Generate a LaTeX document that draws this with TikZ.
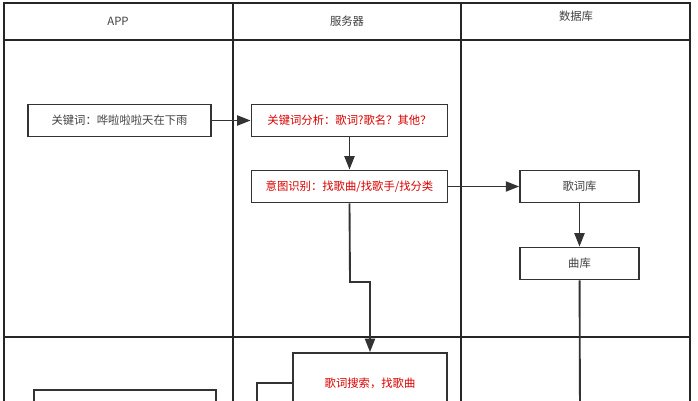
\documentclass[tikz,border=0pt]{standalone}
\usepackage{fontspec}
\setmainfont{Noto Sans CJK SC}
\usetikzlibrary{arrows.meta}
\tikzset{every picture/.style={line width=0.75pt}}
\tikzset{
  stepbox/.style={draw=black!80, line width=1.4pt, minimum height=24pt, inner sep=0pt, font=\fontsize{8.5}{10}\selectfont},
  redtext/.style={text=red!85!black},
  link/.style={draw=black!80, line width=1.4pt, -{Triangle[length=10pt,width=7.5pt]}}
}
\begin{document}
\begin{tikzpicture}[x=0.75pt,y=0.75pt,yscale=-1,xscale=1]
\useasboundingbox (0,0) rectangle (698,400);
\clip (0,0) rectangle (698,400);

% lanes
\draw [black!85, line width=1.1pt] (4,3) rectangle (690,420);
\draw [black!85, line width=1.1pt] (4,40) -- (690,40);
\draw [black!85, line width=1.1pt] (4,337) -- (690,337);
\draw [black!85, line width=1.1pt] (233,3) -- (233,420);
\draw [black!85, line width=1.1pt] (461,3) -- (461,420);

% headers
\node (happ) at (118,21) [font=\fontsize{8.5}{10}\selectfont, text=black!75] {APP};
\node (hsrv) at (347,21) [font=\fontsize{8.5}{10}\selectfont, text=black!75] {服务器};
\node (hdb) at (576,16) [font=\fontsize{8.5}{10}\selectfont, text=black!75] {数据库};

% boxes
\node (kw) at (119.5,120.5) [stepbox, minimum width=137pt, text=black!75] {关键词：哗啦啦啦天在下雨};
\node (ana) at (349.5,120.5) [stepbox, redtext, minimum width=147pt] {关键词分析：歌词?歌名？其他？};
\node (intent) at (349.5,186.5) [stepbox, redtext, minimum width=147pt] {意图识别：找歌曲/找歌手/找分类};
\node (lyricdb) at (579.5,186.5) [stepbox, minimum width=89pt, text=black!75] {歌词库};
\node (songdb) at (579.5,263.5) [stepbox, minimum width=89pt, text=black!75] {曲库};
\node (search) at (370,383) [stepbox, redtext, minimum width=115pt, minimum height=45pt] {歌词搜索，找歌曲};
\node (result) at (125,420) [stepbox, minimum width=136pt, minimum height=45pt] {};
\coordinate (bend1) at (350,282);
\coordinate (bend2) at (370,282);
\coordinate (low) at (580,420);
\coordinate (side) at (257,383);
\coordinate (sidelow) at (257,420);

% connectors
\draw [link] (kw) -- (ana);
\draw [link] (ana) -- (intent);
\draw [link] (intent) -- (lyricdb);
\draw [link] (lyricdb) -- (songdb);
\draw [link] (intent.south) -- (bend1) -- (bend2) -- (search.north);
\draw [draw=black!80, line width=1.4pt] (songdb) -- (low);
\draw [draw=black!80, line width=1.4pt] (search.west |- side) -- (side) -- (sidelow);
\end{tikzpicture}
\end{document}
